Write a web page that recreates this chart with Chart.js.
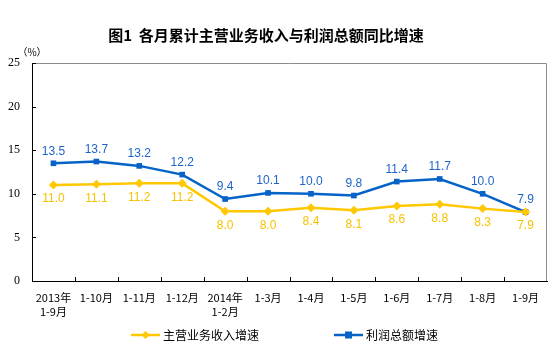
<!DOCTYPE html>
<html>
<head>
<meta charset="utf-8">
<script src="https://cdn.jsdelivr.net/npm/chart.js@4.4.1/dist/chart.umd.min.js"></script>
<style>
  body { margin: 0; background: #fff; }
</style>
</head>
<body>
<canvas id="growthChart" width="554" height="352"></canvas>
<script>
// 数据
const categories = [['2013年', '1-9月'], '1-10月', '1-11月', '1-12月', ['2014年', '1-2月'], '1-3月', '1-4月', '1-5月', '1-6月', '1-7月', '1-8月', '1-9月'];
const revenueGrowth = [11.0, 11.1, 11.2, 11.2, 8.0, 8.0, 8.4, 8.1, 8.6, 8.8, 8.3, 7.9];
const profitGrowth = [13.5, 13.7, 13.2, 12.2, 9.4, 10.1, 10.0, 9.8, 11.4, 11.7, 10.0, 7.9];
const yMin = 0, yMax = 25, yStep = 5;
const titleText = '图1  各月累计主营业务收入与利润总额同比增速';
const unitText = '（%）';
const revenueName = '主营业务收入增速';
const profitName = '利润总额增速';

const BLUE = '#0563C8';
const YELLOW = '#FFC800';
const CJK = '"Noto Sans CJK SC", "Noto Sans", sans-serif';

// 边框、刻度、标题、图例、数值标签
const decorPlugin = {
    id: 'decor',
    beforeDraw(chart) {
        const { ctx, chartArea: a } = chart;
        ctx.save();
        ctx.strokeStyle = '#8c8c8c';
        ctx.lineWidth = 1;
        ctx.beginPath();
        ctx.moveTo(a.left, a.top + 0.5);
        ctx.lineTo(a.right - 0.5, a.top + 0.5);
        ctx.lineTo(a.right - 0.5, a.bottom);
        ctx.stroke();
        ctx.restore();
    },
    afterDraw(chart) {
        const { ctx, chartArea: a } = chart;
        const x = chart.scales.x, y = chart.scales.y;
        ctx.save();
        // 内侧刻度线
        ctx.strokeStyle = '#000';
        ctx.lineWidth = 1;
        ctx.beginPath();
        for (let v = yMin + yStep; v <= yMax; v += yStep) {
            const py = Math.round(y.getPixelForValue(v)) + 0.5;
            ctx.moveTo(a.left, py);
            ctx.lineTo(a.left + 4, py);
        }
        const half = (x.getPixelForValue(1) - x.getPixelForValue(0)) / 2;
        for (let i = 1; i < categories.length; i++) {
            const px = Math.round(x.getPixelForValue(i) - half) + 0.5;
            ctx.moveTo(px, a.bottom);
            ctx.lineTo(px, a.bottom - 4);
        }
        ctx.stroke();

        // 标题
        ctx.fillStyle = '#000';
        ctx.font = 'bold 15px ' + CJK;
        ctx.textAlign = 'center';
        ctx.textBaseline = 'middle';
        ctx.fillText(titleText, 266, 35);
        ctx.font = '10px ' + CJK;
        ctx.fillText(unitText, 32, 52);

        // 数值标签
        ctx.font = '12px "Liberation Sans", Arial, sans-serif';
        chart.data.datasets.forEach((ds, i) => {
            const meta = chart.getDatasetMeta(i);
            ctx.fillStyle = ds.labelColor;
            meta.data.forEach((pt, j) => {
                ctx.fillText(ds.data[j].toFixed(1), pt.x, pt.y + ds.labelOffset);
            });
        });

        // 图例
        const items = [
            { name: revenueName, color: YELLOW, style: 'diamond', x: 131 },
            { name: profitName, color: BLUE, style: 'square', x: 334 }
        ];
        const ly = 335;
        items.forEach(it => {
            ctx.strokeStyle = it.color;
            ctx.fillStyle = it.color;
            ctx.lineWidth = 2.5;
            ctx.beginPath();
            ctx.moveTo(it.x, ly);
            ctx.lineTo(it.x + 29, ly);
            ctx.stroke();
            const cx = it.x + 14.5;
            ctx.beginPath();
            if (it.style === 'diamond') {
                ctx.moveTo(cx, ly - 4); ctx.lineTo(cx + 4, ly);
                ctx.lineTo(cx, ly + 4); ctx.lineTo(cx - 4, ly);
            } else {
                ctx.rect(cx - 3.5, ly - 3.5, 7, 7);
            }
            ctx.fill();
            ctx.fillStyle = '#000';
            ctx.font = '12px ' + CJK;
            ctx.textAlign = 'left';
            ctx.fillText(it.name, it.x + 32, ly);
        });
        ctx.restore();
    }
};

new Chart(document.getElementById('growthChart').getContext('2d'), {
    type: 'line',
    data: {
        labels: categories,
        datasets: [{
            label: revenueName,
            data: revenueGrowth,
            borderColor: YELLOW,
            backgroundColor: YELLOW,
            borderWidth: 2.5,
            pointStyle: 'rectRot',
            pointRadius: 4.5,
            pointBorderWidth: 0,
            labelColor: '#F7C200',
            labelOffset: 14,
            tension: 0
        }, {
            label: profitName,
            data: profitGrowth,
            borderColor: BLUE,
            backgroundColor: BLUE,
            borderWidth: 2.5,
            pointStyle: 'rect',
            pointRadius: 4,
            pointBorderWidth: 0,
            labelColor: '#1E64C8',
            labelOffset: -12,
            tension: 0
        }]
    },
    options: {
        responsive: false,
        animation: false,
        layout: { padding: { top: 63, right: 7, bottom: 0, left: 0 } },
        plugins: {
            legend: { display: false },
            tooltip: { enabled: false }
        },
        scales: {
            x: {
                offset: true,
                grid: { display: true, drawOnChartArea: false, drawTicks: false },
                border: { color: '#000', width: 1 },
                ticks: {
                    autoSkip: false,
                    maxRotation: 0,
                    padding: 10,
                    color: '#000',
                    font: { family: CJK, size: 11, lineHeight: 1.25 }
                },
                afterFit(s) { s.height = 71; }
            },
            y: {
                min: yMin,
                max: yMax,
                grid: { display: true, drawOnChartArea: false, drawTicks: false },
                border: { color: '#000', width: 1 },
                ticks: {
                    stepSize: yStep,
                    padding: 12,
                    color: '#000',
                    font: { family: '"Liberation Serif", "Times New Roman", serif', size: 12 }
                },
                afterFit(s) { s.width = 32; }
            }
        }
    },
    plugins: [decorPlugin]
});
</script>
</body>
</html>
